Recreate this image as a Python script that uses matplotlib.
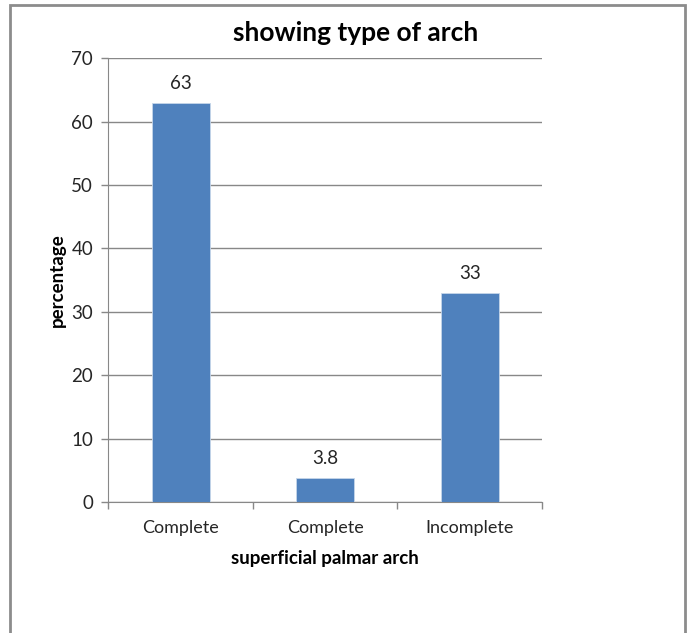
import matplotlib.pyplot as plt
import matplotlib.patches as patches
import numpy as np

categories = ['Complete', 'Complete', 'Incomplete']
values = [63, 3.8, 33]
value_labels = ['63', '3.8', '33']
yticks = [0, 10, 20, 30, 40, 50, 60, 70]

plt.rcParams['font.family'] = ['Lato', 'DejaVu Sans']

fig = plt.figure(figsize=(6.88, 6.33), dpi=100)
ax = fig.add_axes([0.1577, 0.207, 0.630, 0.701])

# outer chart frame (cut off at the bottom, like the screenshot)
frame = patches.Rectangle((10 / 688, -0.05), 675 / 688, 1.05 - 5 / 633,
                          transform=fig.transFigure, fill=False,
                          edgecolor='#8c8c8c', lw=2, clip_on=False)
fig.patches.append(frame)

grid_col = '#888888'
txt_col = '#262626'
index = np.arange(len(categories))
ax.bar(index, values, width=0.40, color='#4F81BD', edgecolor='#c6d6ea', lw=0.6, zorder=3)

for i, v in enumerate(values):
    ax.annotate(value_labels[i], (index[i], v), xytext=(0, 14), textcoords='offset points',
                ha='center', va='center', fontsize=13.5, color=txt_col)

ax.set_xlim(-0.5, 2.5)
ax.set_ylim(0, 70)
ax.set_yticks(yticks)
ax.yaxis.grid(True, color=grid_col, lw=1)
ax.set_axisbelow(True)

ax.set_xticks(index)
ax.set_xticklabels(categories, fontsize=13, color=txt_col)
ax.set_xticks([-0.5, 0.5, 1.5, 2.5], minor=True)
ax.tick_params(axis='x', which='major', length=0, pad=13)
ax.tick_params(axis='x', which='minor', length=5, color=grid_col, width=1)
ax.tick_params(axis='y', length=5, color=grid_col, width=1, labelsize=13.5,
               labelcolor=txt_col, pad=6)

for s in ['top', 'right']:
    ax.spines[s].set_visible(False)
ax.spines['left'].set_color(grid_col)
ax.spines['bottom'].set_color(grid_col)

ax.set_xlabel('superficial palmar arch', fontsize=13.5, fontweight='bold', labelpad=10)
ax.set_ylabel('percentage', fontsize=13.5, fontweight='bold', labelpad=4)
fig.text(356 / 688, 1 - 33 / 633, 'showing type of arch', fontsize=19, fontweight='bold',
         ha='center', va='center', color='black')

fig.savefig('out.png', dpi=100)
